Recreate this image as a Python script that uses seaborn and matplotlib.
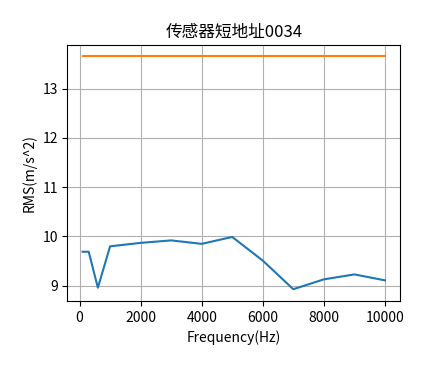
import matplotlib
matplotlib.use("Agg")
import matplotlib.pyplot as plt
import seaborn as sns
import pandas as pd

freq_blue = [100, 300, 600, 1000, 2000, 3000, 4000, 5000, 6000, 7000, 8000, 9000, 10000]
rms_blue = [9.69, 9.69, 8.96, 9.80, 9.87, 9.92, 9.85, 9.99, 9.51, 8.93, 9.13, 9.23, 9.11]
freq_orange = [100, 10000]
rms_orange = [13.65, 13.65]

title = "传感器短地址0034"
xlabel = "Frequency(Hz)"
ylabel = "RMS(m/s^2)"

plt.rcParams['font.family'] = ['Noto Sans CJK SC', 'DejaVu Sans']
plt.rcParams['axes.unicode_minus'] = False

fig = plt.figure(figsize=(4.44, 3.77), dpi=100)
ax = fig.add_axes([0.152, 0.202, 0.749, 0.679])

df_b = pd.DataFrame({"f": freq_blue, "r": rms_blue})
df_o = pd.DataFrame({"f": freq_orange, "r": rms_orange})
sns.lineplot(data=df_b, x="f", y="r", ax=ax, color="#1f77b4", linewidth=1.5)
sns.lineplot(data=df_o, x="f", y="r", ax=ax, color="#ff7f0e", linewidth=1.5)

ax.grid(True, color="#b0b0b0", linewidth=0.8)
ax.set_axisbelow(True)
ax.set_title(title, fontsize=12)
ax.set_xlabel(xlabel, fontsize=10)
ax.set_ylabel(ylabel, fontsize=10)
ax.set_xticks([0, 2000, 4000, 6000, 8000, 10000])
ax.set_yticks([9, 10, 11, 12, 13])

fig.savefig("out.png", dpi=100)
